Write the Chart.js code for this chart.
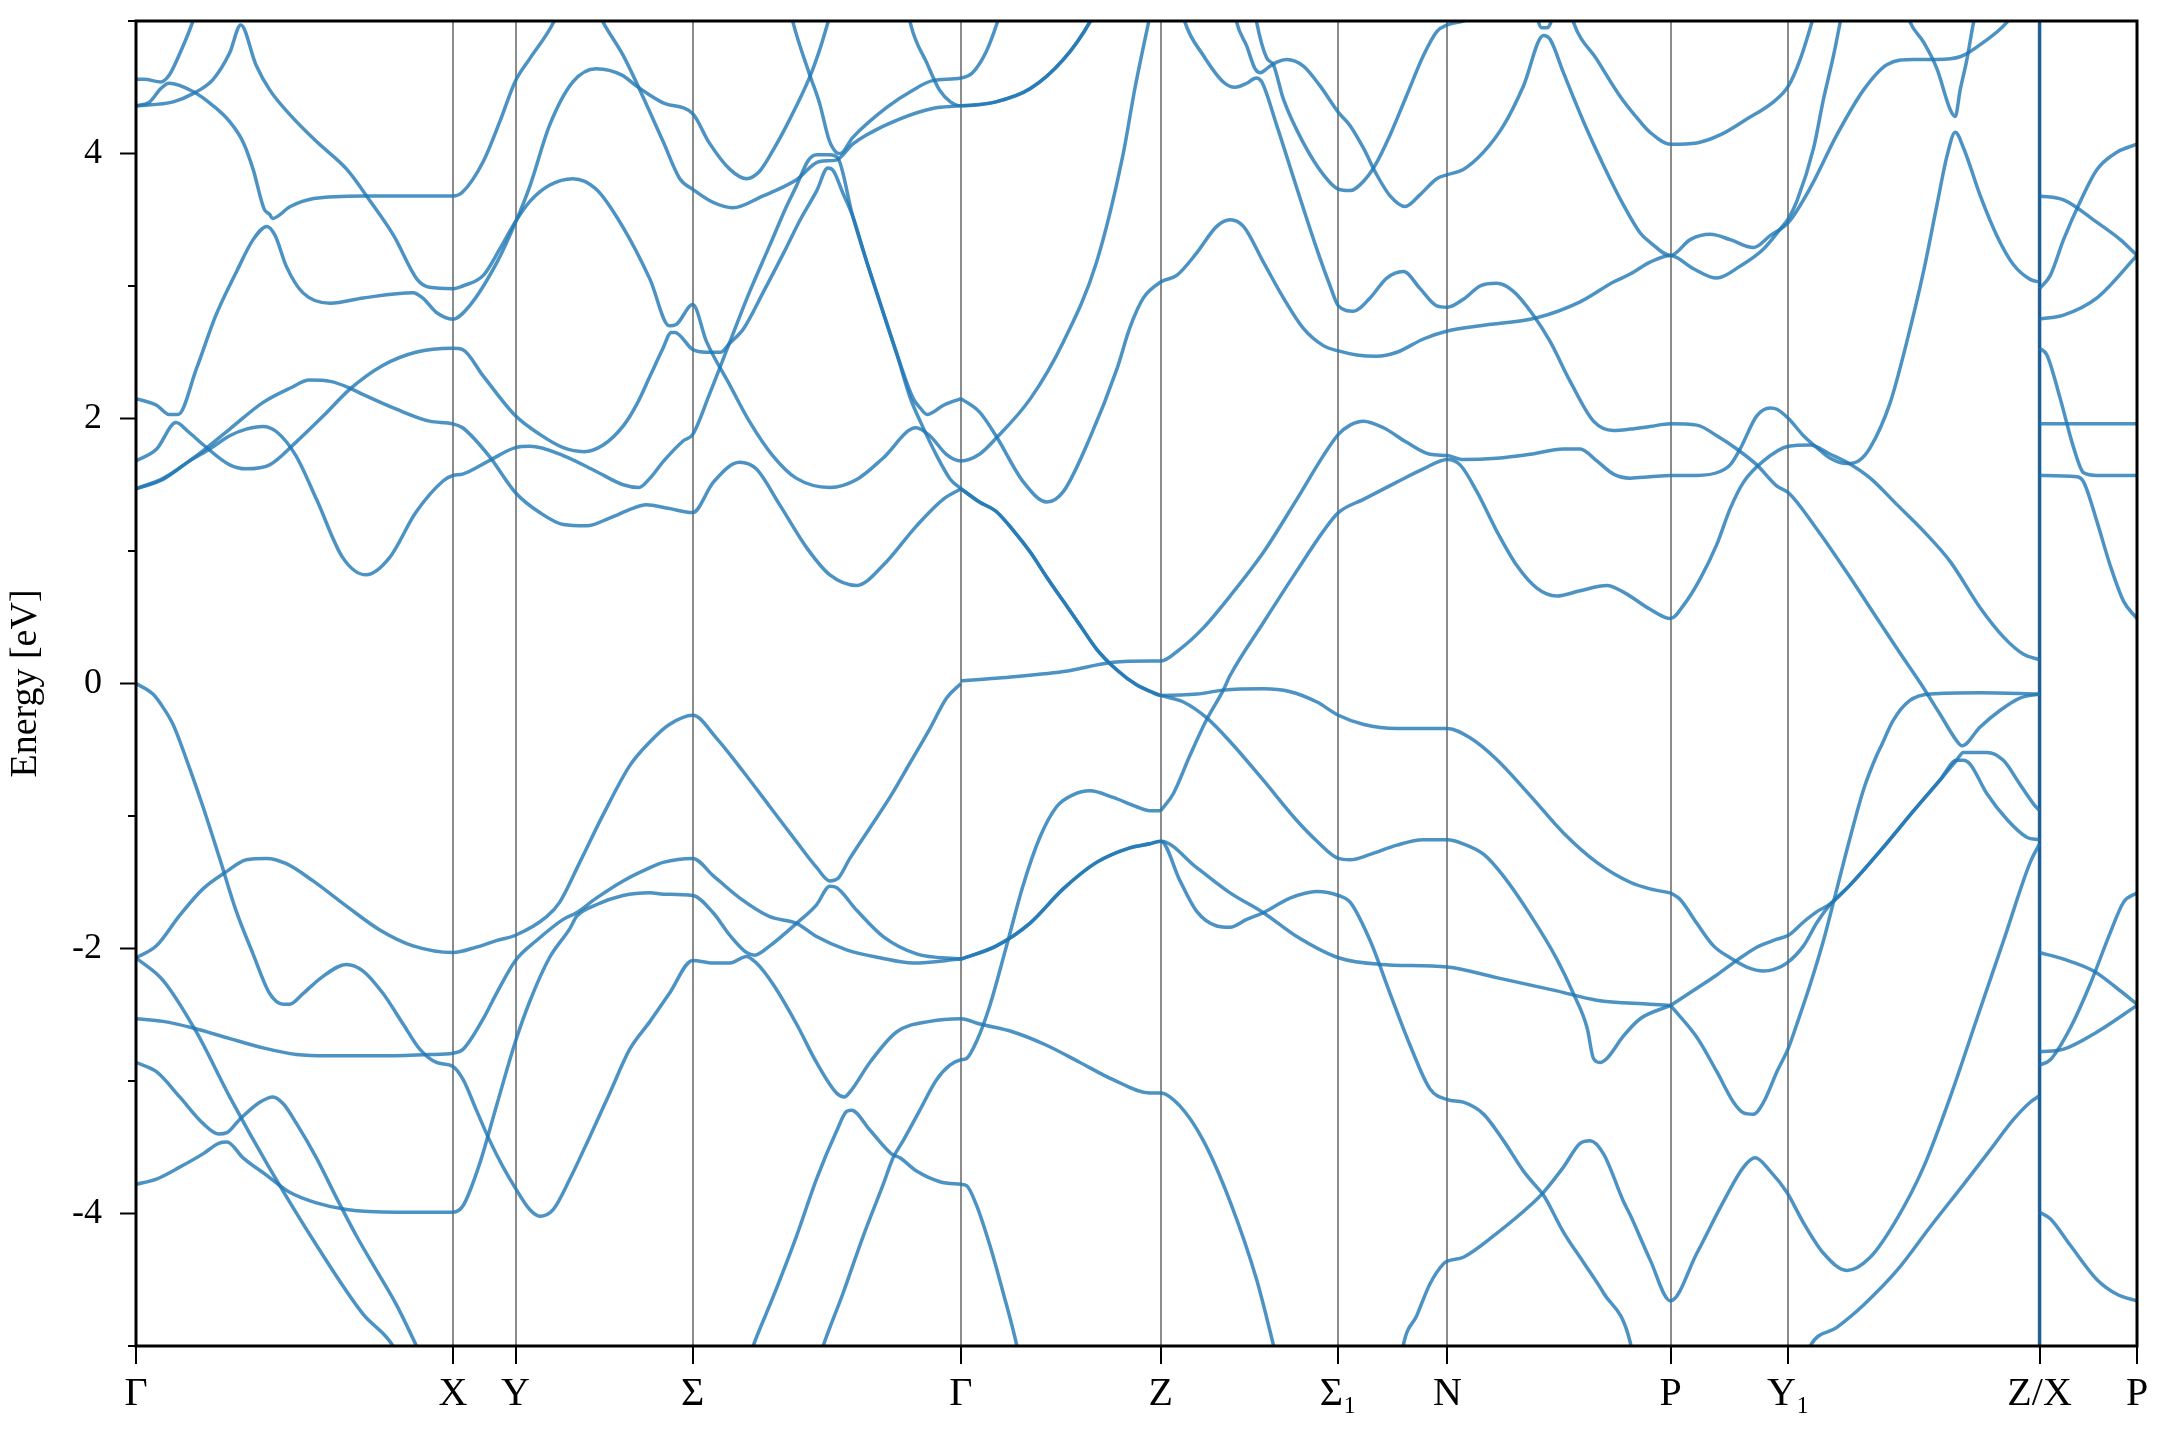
<!DOCTYPE html>
<html>
<head>
<meta charset="utf-8">
<title>Band structure</title>
<script src="https://cdn.jsdelivr.net/npm/chart.js@4.4.1/dist/chart.umd.min.js"></script>
<style>
  html, body { margin: 0; padding: 0; background: #fff; }
  #wrap { width: 2160px; height: 1440px; position: relative; }
</style>
</head>
<body>
<div id="wrap"><canvas id="bands"></canvas></div>
<script>
// high-symmetry points along the k-path
const kTicks = [0, 2.30, 2.754, 4.04, 5.986, 7.436, 8.725, 9.516, 11.135, 11.991, 13.813, 14.52];
const kLabels = ['Γ', 'X', 'Y', 'Σ', 'Γ', 'Z', 'Σ₁', 'N', 'P', 'Y₁', 'Z/X', 'P'];
const energyTicks = [-5, -4, -3, -2, -1, 0, 1, 2, 3, 4, 5];

// bands as [k, energy (eV)]
const band01 = [[0,4.56],[0.06,4.56],[0.18,4.54],[0.24,4.59],[0.32,4.76],[0.41,4.99],[0.45,5.12]];
const band02 = [[0,4.36],[0.1,4.39],[0.18,4.49],[0.24,4.53],[0.41,4.47],[0.56,4.36],[0.68,4.24],[0.78,4.08],[0.85,3.88],[0.93,3.58],[0.97,3.54],[0.99,3.51],[1.12,3.6],[1.29,3.66],[1.65,3.68],[2.0,3.68],[2.3,3.68],[2.37,3.71],[2.52,3.94],[2.64,4.24],[2.75,4.54],[2.86,4.72],[3.03,4.99],[3.08,5.12]];
const band03 = [[0,4.36],[0.27,4.39],[0.41,4.45],[0.56,4.56],[0.68,4.76],[0.76,4.97],[0.87,4.67],[0.97,4.48],[1.12,4.29],[1.31,4.09],[1.53,3.88],[1.7,3.64],[1.87,3.38],[2.04,3.05],[2.13,2.99],[2.3,2.98],[2.37,3.0],[2.52,3.08],[2.64,3.28],[2.75,3.48],[2.86,3.64],[3.0,3.76],[3.17,3.81],[3.34,3.73],[3.53,3.45],[3.73,3.05],[3.87,2.7],[3.92,2.71],[4.04,2.86],[4.14,2.58],[4.31,2.25],[4.45,1.98],[4.62,1.72],[4.79,1.55],[5.035,1.48],[5.23,1.54],[5.42,1.7],[5.66,1.93],[5.76,1.87],[5.88,1.73],[5.986,1.68],[6.12,1.73],[6.24,1.85],[6.49,2.15],[6.73,2.58],[6.97,3.18],[7.16,3.98],[7.25,4.5],[7.37,5.1]];
const band04 = [[0,2.15],[0.15,2.1],[0.24,2.03],[0.305,2.03],[0.44,2.38],[0.58,2.78],[0.73,3.11],[0.85,3.35],[0.95,3.45],[1.01,3.38],[1.09,3.15],[1.21,2.95],[1.41,2.87],[1.65,2.91],[2.01,2.95],[2.08,2.91],[2.18,2.8],[2.3,2.75],[2.42,2.85],[2.62,3.18],[2.754,3.48],[2.86,3.76],[3.0,4.21],[3.17,4.54],[3.34,4.64],[3.53,4.59],[3.63,4.51],[3.73,4.44],[3.83,4.38],[4.04,4.3],[4.16,4.08],[4.31,3.88],[4.43,3.81],[4.52,3.86],[4.62,4.02],[4.74,4.25],[4.89,4.58],[4.96,4.78],[5.03,5.02],[5.06,5.12]];
const band05a = [[0,1.68],[0.15,1.77],[0.29,1.97],[0.38,1.9],[0.49,1.8],[0.68,1.65],[0.8,1.62],[0.97,1.65],[1.16,1.82],[1.36,2.02],[1.55,2.22],[1.79,2.4],[2.03,2.5],[2.3,2.53],[2.37,2.52],[2.52,2.32],[2.754,2.02],[2.93,1.88],[3.1,1.78],[3.25,1.75],[3.39,1.8],[3.54,1.95],[3.64,2.12],[3.73,2.32],[3.82,2.52],[3.885,2.65],[3.91,2.65],[4.04,2.52],[4.14,2.5],[4.24,2.5],[4.31,2.57],[4.41,2.68],[4.55,2.95],[4.7,3.25],[4.82,3.5],[4.94,3.72],[5.02,3.89],[5.06,3.87],[5.13,3.7],[5.2,3.53],[5.3,3.19],[5.4,2.87],[5.52,2.49],[5.62,2.15],[5.69,1.98],[5.81,1.72],[5.91,1.54],[5.986,1.47]];
const band05b = [[5.986,1.47],[6.12,1.37],[6.24,1.3],[6.37,1.15],[6.49,0.99],[6.61,0.8],[6.73,0.62],[6.85,0.44],[6.97,0.26],[7.12,0.1],[7.26,-0.01],[7.36,-0.06],[7.436,-0.09],[7.6,-0.14],[7.77,-0.26],[7.94,-0.44],[8.18,-0.73],[8.42,-1.03],[8.57,-1.19],[8.725,-1.32],[8.81,-1.33],[8.955,-1.29],[9.15,-1.22],[9.34,-1.18],[9.516,-1.18],[9.63,-1.21],[9.78,-1.29],[9.92,-1.45],[10.12,-1.75],[10.31,-2.08],[10.43,-2.34],[10.53,-2.6],[10.576,-2.83],[10.624,-2.86],[10.673,-2.83],[10.794,-2.66],[10.915,-2.53],[11.135,-2.43]];
const band05c = [[11.135,-2.43],[11.326,-2.67],[11.471,-2.93],[11.592,-3.16],[11.665,-3.24],[11.737,-3.25],[11.81,-3.16],[11.907,-2.93],[11.991,-2.75],[12.052,-2.57],[12.149,-2.27],[12.245,-1.94],[12.342,-1.55],[12.439,-1.16],[12.536,-0.8],[12.632,-0.54],[12.66,-0.48],[12.75,-0.28],[12.87,-0.13],[13.02,-0.08],[13.38,-0.07],[13.813,-0.08]];
const band06a = [[0,1.47],[0.2,1.55],[0.44,1.72],[0.68,1.92],[0.92,2.12],[1.12,2.23],[1.26,2.29],[1.41,2.28],[1.55,2.23],[1.65,2.18],[1.89,2.07],[2.13,1.98],[2.3,1.96],[2.37,1.93],[2.56,1.72],[2.754,1.44],[2.93,1.29],[3.1,1.2],[3.27,1.19],[3.44,1.25],[3.6,1.32],[3.7,1.35],[3.87,1.32],[4.04,1.29],[4.19,1.52],[4.38,1.67],[4.5,1.62],[4.67,1.35],[4.87,1.02],[5.035,0.82],[5.23,0.74],[5.42,0.89],[5.664,1.19],[5.857,1.39],[5.986,1.47]];
const band06b = [[5.986,1.47],[6.12,1.37],[6.24,1.3],[6.37,1.15],[6.49,0.99],[6.61,0.8],[6.73,0.62],[6.85,0.44],[6.97,0.26],[7.12,0.1],[7.26,-0.01],[7.36,-0.06],[7.436,-0.09],[7.7,-0.08],[7.89,-0.05],[8.18,-0.04],[8.37,-0.06],[8.57,-0.14],[8.725,-0.24],[8.91,-0.31],[9.15,-0.34],[9.516,-0.34],[9.68,-0.41],[9.87,-0.57],[10.12,-0.85],[10.36,-1.13],[10.6,-1.35],[10.842,-1.5],[10.987,-1.55],[11.135,-1.58]];
const band06c = [[11.135,-1.58],[11.205,-1.63],[11.326,-1.81],[11.447,-1.98],[11.568,-2.07],[11.689,-2.14],[11.81,-2.17],[11.882,-2.16],[11.979,-2.11],[12.1,-1.98],[12.2,-1.8],[12.3,-1.66],[12.439,-1.52],[12.66,-1.26],[12.9,-0.96],[13.09,-0.73],[13.21,-0.58],[13.26,-0.58],[13.31,-0.61],[13.43,-0.83],[13.58,-1.03],[13.72,-1.16],[13.813,-1.18]];
const band07a = [[0,1.47],[0.196,1.54],[0.39,1.68],[0.535,1.77],[0.68,1.87],[0.8,1.92],[0.92,1.94],[1.02,1.9],[1.16,1.72],[1.31,1.39],[1.5,0.95],[1.67,0.82],[1.84,0.95],[2.03,1.29],[2.23,1.53],[2.3,1.57],[2.37,1.58],[2.56,1.68],[2.754,1.78],[2.86,1.79],[3.1,1.72],[3.34,1.6],[3.535,1.5],[3.65,1.48],[3.73,1.55],[3.83,1.68],[3.97,1.83],[4.04,1.88],[4.16,2.18],[4.31,2.58],[4.45,2.95],[4.6,3.31],[4.72,3.6],[4.79,3.75],[4.88,3.95],[4.94,3.99],[5.03,3.99],[5.09,3.97],[5.2,3.53],[5.3,3.19],[5.4,2.87],[5.52,2.49],[5.64,2.15],[5.69,2.08],[5.74,2.03],[5.86,2.1],[5.986,2.15]];
const band07b = [[5.986,2.15],[6.12,2.05],[6.24,1.87],[6.44,1.52],[6.61,1.37],[6.73,1.45],[6.92,1.85],[7.12,2.38],[7.21,2.68],[7.31,2.91],[7.436,3.03],[7.552,3.08],[7.697,3.25],[7.842,3.45],[7.939,3.5],[8.036,3.45],[8.181,3.18],[8.326,2.91],[8.471,2.68],[8.616,2.55],[8.725,2.51],[8.858,2.48],[9.003,2.47],[9.149,2.5],[9.342,2.6],[9.516,2.66],[9.753,2.7],[10.165,2.76],[10.479,2.88],[10.721,3.03],[10.842,3.09],[10.987,3.18],[11.135,3.23],[11.302,3.13],[11.471,3.06],[11.64,3.15],[11.81,3.28],[11.931,3.43],[11.991,3.51],[12.052,3.64],[12.173,4.04],[12.245,4.41],[12.318,4.74],[12.366,4.99],[12.39,5.12]];
const band08 = [[3.33,5.12],[3.39,4.99],[3.535,4.74],[3.656,4.48],[3.825,4.09],[3.946,3.81],[4.04,3.73],[4.19,3.63],[4.33,3.59],[4.55,3.68],[4.79,3.8],[4.96,3.94],[5.08,3.95],[5.2,4.07],[5.3,4.14],[5.54,4.26],[5.78,4.34],[5.986,4.36],[6.24,4.39],[6.49,4.49],[6.73,4.71],[6.92,4.99],[6.97,5.1]];
const band09 = [[4.74,5.12],[4.77,4.98],[4.89,4.59],[4.96,4.38],[5.03,4.1],[5.08,4.01],[5.11,4.0],[5.2,4.12],[5.45,4.35],[5.64,4.48],[5.78,4.55],[5.986,4.57],[6.07,4.61],[6.17,4.77],[6.25,4.99],[6.28,5.1]];
const band10 = [[5.6,5.1],[5.62,4.98],[5.74,4.68],[5.83,4.48],[5.91,4.39],[5.986,4.36],[6.24,4.39],[6.49,4.49],[6.73,4.71],[6.92,4.99],[6.97,5.1]];
const band11 = [[5.986,0.02],[6.24,0.04],[6.73,0.09],[7.09,0.16],[7.36,0.17],[7.436,0.17],[7.576,0.26],[7.745,0.42],[7.939,0.66],[8.181,0.99],[8.423,1.39],[8.616,1.72],[8.725,1.88],[8.81,1.95],[8.907,1.98],[9.052,1.93],[9.221,1.82],[9.39,1.73],[9.516,1.72],[9.632,1.69],[9.874,1.7],[10.116,1.73],[10.358,1.77],[10.479,1.77],[10.6,1.68],[10.721,1.58],[10.842,1.55],[10.987,1.56],[11.135,1.57],[11.326,1.57],[11.495,1.6],[11.568,1.65],[11.64,1.77],[11.761,2.02],[11.858,2.08],[11.907,2.07],[11.991,2.0],[12.1,1.87],[12.197,1.78],[12.294,1.7],[12.415,1.66],[12.5,1.68],[12.584,1.78],[12.729,2.12],[12.85,2.58],[12.971,3.11],[13.068,3.61],[13.141,3.98],[13.201,4.16],[13.262,4.04],[13.383,3.68],[13.503,3.38],[13.624,3.16],[13.745,3.05],[13.813,3.03]];
const band12a = [[4.94,-5.15],[4.986,-5.0],[5.131,-4.6],[5.277,-4.17],[5.422,-3.78],[5.494,-3.58],[5.567,-3.45],[5.688,-3.22],[5.809,-2.99],[5.906,-2.88],[5.986,-2.84],[6.027,-2.83],[6.1,-2.7],[6.196,-2.43],[6.317,-1.98],[6.438,-1.52],[6.559,-1.16],[6.68,-0.93],[6.8,-0.84],[6.922,-0.81],[7.09,-0.86],[7.26,-0.93],[7.357,-0.96],[7.436,-0.96]];
const band12b = [[7.436,-0.96],[7.528,-0.83],[7.649,-0.54],[7.77,-0.27],[7.89,-0.05],[7.939,0.06],[8.181,0.46],[8.423,0.85],[8.616,1.15],[8.725,1.29],[8.907,1.39],[9.149,1.52],[9.342,1.62],[9.516,1.69],[9.608,1.65],[9.729,1.45],[9.874,1.15],[10.02,0.89],[10.165,0.72],[10.31,0.66],[10.479,0.7],[10.673,0.74],[10.794,0.69],[10.987,0.56],[11.135,0.49],[11.229,0.59],[11.35,0.79],[11.471,1.05],[11.568,1.32],[11.665,1.52],[11.81,1.68],[11.991,1.79],[12.149,1.8],[12.294,1.73],[12.415,1.67],[12.584,1.55],[12.778,1.35],[12.971,1.15],[13.165,0.92],[13.383,0.57],[13.552,0.35],[13.697,0.22],[13.813,0.18]];
const band13 = [[7.575,5.15],[7.612,4.99],[7.745,4.74],[7.89,4.54],[7.975,4.5],[8.06,4.53],[8.128,4.57],[8.169,4.54],[8.278,4.21],[8.423,3.74],[8.568,3.28],[8.665,3.0],[8.725,2.85],[8.834,2.81],[8.955,2.91],[9.076,3.06],[9.197,3.11],[9.318,2.98],[9.439,2.85],[9.516,2.84],[9.632,2.9],[9.753,3.0],[9.874,3.02],[9.995,2.96],[10.14,2.78],[10.262,2.58],[10.407,2.28],[10.576,1.98],[10.721,1.91],[10.842,1.92],[10.987,1.94],[11.135,1.96],[11.326,1.95],[11.471,1.87],[11.616,1.77],[11.761,1.65],[11.907,1.49],[11.991,1.44],[12.2,1.16],[12.4,0.86],[12.66,0.45],[12.8,0.23],[12.95,0.0],[13.09,-0.23],[13.21,-0.43],[13.25,-0.47],[13.38,-0.33],[13.53,-0.2],[13.67,-0.11],[13.813,-0.08]];
const band14 = [[7.96,5.15],[7.987,4.99],[8.06,4.81],[8.12,4.64],[8.157,4.61],[8.217,4.65],[8.278,4.69],[8.35,4.71],[8.471,4.66],[8.592,4.51],[8.725,4.31],[8.81,4.21],[8.907,4.04],[9.003,3.84],[9.1,3.68],[9.209,3.6],[9.318,3.69],[9.439,3.81],[9.516,3.84],[9.632,3.88],[9.778,4.01],[9.923,4.21],[10.068,4.51],[10.213,4.89],[10.262,4.86],[10.358,4.61],[10.504,4.24],[10.649,3.91],[10.794,3.61],[10.915,3.4],[10.987,3.33],[11.135,3.23],[11.278,3.35],[11.423,3.39],[11.568,3.35],[11.737,3.29],[11.858,3.38],[11.991,3.48],[12.149,3.74],[12.342,4.14],[12.536,4.48],[12.705,4.67],[12.899,4.71],[13.068,4.71],[13.237,4.73],[13.407,4.84],[13.576,4.99],[13.65,5.1]];
const band15 = [[8.108,5.15],[8.132,4.99],[8.205,4.72],[8.253,4.67],[8.326,4.41],[8.471,4.08],[8.616,3.84],[8.725,3.73],[8.81,3.72],[8.907,3.79],[8.991,3.91],[9.1,4.14],[9.221,4.44],[9.342,4.74],[9.439,4.92],[9.516,4.97],[9.632,5.0],[9.75,5.05]];
const band16 = [[10.4,5.12],[10.431,4.99],[10.6,4.71],[10.77,4.43],[10.915,4.24],[10.987,4.16],[11.135,4.07],[11.326,4.08],[11.495,4.14],[11.689,4.26],[11.882,4.39],[11.991,4.51],[12.076,4.71],[12.161,4.99],[12.19,5.1]];
const band17 = [[10.15,5.08],[10.2,4.95],[10.24,4.95],[10.3,5.08]];
const band18 = [[12.84,5.1],[12.874,4.99],[12.971,4.84],[13.068,4.64],[13.165,4.33],[13.201,4.28],[13.237,4.48],[13.286,4.71],[13.334,4.99],[13.36,5.1]];
// Z/X -> P
const band19 = [[13.813,3.68],[13.987,3.65],[14.23,3.48],[14.399,3.35],[14.52,3.23]];
const band20 = [[13.813,2.98],[13.891,3.08],[13.987,3.35],[14.109,3.64],[14.23,3.88],[14.375,4.01],[14.52,4.07]];
const band21 = [[13.813,2.75],[13.987,2.78],[14.23,2.91],[14.52,3.23]];
const band22 = [[13.813,2.53],[13.866,2.48],[13.963,2.15],[14.06,1.78],[14.133,1.59],[14.23,1.57],[14.52,1.57]];
const band23 = [[13.813,1.96],[14.52,1.96]];
const band24 = [[13.813,1.57],[14.084,1.56],[14.133,1.52],[14.23,1.22],[14.326,0.89],[14.423,0.62],[14.52,0.49]];
const band25 = [[13.813,-2.03],[13.987,-2.08],[14.205,-2.17],[14.375,-2.3],[14.52,-2.42]];
const band26 = [[13.813,-2.88],[13.891,-2.84],[14.036,-2.6],[14.18,-2.27],[14.326,-1.88],[14.423,-1.65],[14.52,-1.58]];
const band27 = [[13.813,-2.78],[13.987,-2.76],[14.23,-2.63],[14.52,-2.43]];
const band28 = [[13.813,-3.99],[13.891,-4.04],[14.036,-4.24],[14.23,-4.5],[14.375,-4.61],[14.52,-4.66]];
// valence side
const band29 = [[0,0],[0.123,-0.08],[0.196,-0.18],[0.269,-0.31],[0.365,-0.57],[0.486,-0.93],[0.607,-1.32],[0.728,-1.72],[0.849,-2.04],[0.97,-2.34],[1.067,-2.42],[1.115,-2.42],[1.212,-2.34],[1.357,-2.21],[1.527,-2.12],[1.648,-2.17],[1.793,-2.34],[1.938,-2.57],[2.059,-2.76],[2.18,-2.86],[2.3,-2.89],[2.374,-2.99],[2.47,-3.22],[2.567,-3.45],[2.664,-3.65],[2.754,-3.81],[2.857,-3.97],[2.93,-4.02],[3.027,-3.97],[3.148,-3.74],[3.293,-3.42],[3.438,-3.09],[3.583,-2.76],[3.73,-2.55],[3.87,-2.34],[4.04,-2.09],[4.188,-2.11],[4.309,-2.11],[4.43,-2.06],[4.502,-2.11],[4.623,-2.27],[4.793,-2.57],[4.938,-2.86],[5.083,-3.09],[5.14,-3.12],[5.19,-3.07],[5.325,-2.86],[5.519,-2.63],[5.761,-2.55],[5.986,-2.53],[6.124,-2.57],[6.365,-2.63],[6.607,-2.73],[6.85,-2.86],[7.09,-2.99],[7.357,-3.09],[7.436,-3.09],[7.576,-3.19],[7.745,-3.45],[7.939,-3.91],[8.132,-4.5],[8.253,-4.99],[8.29,-5.15]];
const band30 = [[0,-2.07],[0.148,-1.98],[0.317,-1.75],[0.486,-1.55],[0.656,-1.42],[0.8,-1.33],[0.946,-1.32],[1.091,-1.36],[1.285,-1.49],[1.527,-1.68],[1.769,-1.86],[2.011,-1.98],[2.3,-2.03],[2.47,-1.99],[2.615,-1.94],[2.754,-1.9],[2.98,-1.76],[3.075,-1.65],[3.22,-1.35],[3.39,-0.99],[3.583,-0.62],[3.73,-0.44],[3.87,-0.31],[4.04,-0.24],[4.21,-0.41],[4.41,-0.67],[4.6,-0.93],[4.79,-1.19],[4.94,-1.39],[5.035,-1.49],[5.095,-1.47],[5.18,-1.32],[5.325,-1.09],[5.47,-0.86],[5.616,-0.6],[5.761,-0.34],[5.882,-0.11],[5.986,0.0]];
const band31 = [[0,-2.07],[0.196,-2.24],[0.438,-2.63],[0.68,-3.12],[0.97,-3.66],[1.31,-4.24],[1.648,-4.76],[1.865,-5.0],[1.95,-5.2]];
const band32 = [[0,-2.86],[0.148,-2.93],[0.317,-3.12],[0.486,-3.32],[0.6,-3.4],[0.66,-3.39],[0.752,-3.29],[0.898,-3.16],[0.994,-3.12],[1.067,-3.17],[1.164,-3.32],[1.309,-3.58],[1.454,-3.88],[1.6,-4.17],[1.745,-4.43],[1.89,-4.69],[2.035,-5.0],[2.1,-5.15]];
const band33a = [[0,-3.78],[0.148,-3.74],[0.317,-3.65],[0.486,-3.55],[0.6,-3.47],[0.66,-3.46],[0.777,-3.58],[0.946,-3.71],[1.115,-3.84],[1.309,-3.92],[1.527,-3.97],[1.89,-3.99],[2.3,-3.99],[2.374,-3.94],[2.495,-3.62],[2.615,-3.19],[2.754,-2.7],[2.857,-2.4],[3.0,-2.07],[3.148,-1.85],[3.196,-1.76],[3.34,-1.67],[3.535,-1.6],[3.73,-1.58],[3.83,-1.59],[4.04,-1.6],[4.188,-1.73],[4.309,-1.9],[4.43,-2.03],[4.49,-2.05],[4.599,-1.98],[4.793,-1.81],[4.938,-1.67],[5.035,-1.53],[5.083,-1.54],[5.228,-1.71],[5.422,-1.91],[5.664,-2.04],[5.986,-2.08]];
const band33b = [[5.986,-2.08],[6.244,-1.98],[6.486,-1.81],[6.728,-1.55],[6.97,-1.35],[7.212,-1.24],[7.357,-1.21],[7.436,-1.19],[7.576,-1.49],[7.697,-1.72],[7.842,-1.83],[7.939,-1.84],[8.06,-1.78],[8.181,-1.73],[8.374,-1.62],[8.568,-1.57],[8.725,-1.6],[8.81,-1.65],[8.955,-1.94],[9.1,-2.34],[9.245,-2.73],[9.39,-3.06],[9.516,-3.14],[9.632,-3.16],[9.778,-3.25],[9.923,-3.45],[10.068,-3.68],[10.189,-3.83],[10.213,-3.86],[10.358,-4.14],[10.504,-4.37],[10.649,-4.6],[10.842,-4.97],[10.87,-5.15]];
const band34a = [[0,-2.53],[0.196,-2.55],[0.414,-2.6],[0.68,-2.68],[0.922,-2.75],[1.164,-2.8],[1.406,-2.81],[1.769,-2.81],[2.13,-2.8],[2.3,-2.79],[2.374,-2.76],[2.52,-2.53],[2.615,-2.34],[2.754,-2.09],[2.906,-1.94],[3.1,-1.78],[3.196,-1.73],[3.34,-1.62],[3.535,-1.49],[3.73,-1.39],[3.825,-1.35],[4.04,-1.32],[4.188,-1.45],[4.382,-1.62],[4.599,-1.76],[4.793,-1.81],[4.938,-1.91],[5.156,-2.01],[5.398,-2.07],[5.64,-2.11],[5.986,-2.08]];
const band34b = [[5.986,-2.08],[6.244,-1.98],[6.486,-1.81],[6.728,-1.55],[6.97,-1.35],[7.212,-1.24],[7.357,-1.21],[7.436,-1.19],[7.697,-1.39],[7.939,-1.58],[8.181,-1.73],[8.423,-1.91],[8.725,-2.07],[9.028,-2.12],[9.516,-2.14],[9.874,-2.22],[10.31,-2.32],[10.6,-2.39],[10.987,-2.42],[11.135,-2.43]];
const band34c = [[11.135,-2.43],[11.326,-2.3],[11.471,-2.2],[11.616,-2.09],[11.761,-1.99],[11.907,-1.93],[11.991,-1.9],[12.1,-1.8],[12.2,-1.72],[12.3,-1.66],[12.439,-1.52],[12.66,-1.26],[12.9,-0.96],[13.09,-0.73],[13.21,-0.58],[13.26,-0.52],[13.43,-0.52],[13.55,-0.58],[13.67,-0.76],[13.77,-0.91],[13.813,-0.96]];
const band35 = [[4.43,-5.15],[4.478,-5.0],[4.623,-4.63],[4.793,-4.17],[4.938,-3.74],[5.083,-3.38],[5.156,-3.23],[5.192,-3.22],[5.325,-3.37],[5.482,-3.55],[5.543,-3.58],[5.664,-3.68],[5.833,-3.76],[5.986,-3.78],[6.027,-3.79],[6.1,-3.94],[6.196,-4.24],[6.293,-4.6],[6.39,-4.99],[6.42,-5.15]];
const band36 = [[9.18,-5.12],[9.197,-4.99],[9.294,-4.77],[9.39,-4.53],[9.487,-4.38],[9.516,-4.36],[9.632,-4.33],[9.874,-4.15],[10.116,-3.94],[10.213,-3.84],[10.358,-3.65],[10.479,-3.47],[10.552,-3.45],[10.649,-3.55],[10.794,-3.91],[10.842,-4.01],[10.987,-4.35],[11.135,-4.66],[11.326,-4.3],[11.519,-3.91],[11.665,-3.65],[11.749,-3.58],[11.858,-3.68],[11.979,-3.84],[12.1,-4.07],[12.245,-4.3],[12.415,-4.43],[12.584,-4.33],[12.778,-4.04],[12.971,-3.65],[13.165,-3.12],[13.358,-2.53],[13.552,-1.94],[13.745,-1.35],[13.813,-1.21]];
const band37 = [[12.1,-5.15],[12.149,-5.0],[12.342,-4.86],[12.536,-4.69],[12.778,-4.43],[13.02,-4.1],[13.262,-3.78],[13.455,-3.52],[13.624,-3.29],[13.745,-3.16],[13.813,-3.11]];
// bands jump at the Z/X discontinuity
const zxJump = [[13.813,-5.2],[13.813,5.2]];

const allBands = [band01, band02, band03, band04, band05a, band05b, band05c, band06a, band06b, band06c,
  band07a, band07b, band08, band09, band10, band11, band12a, band12b, band13, band14, band15, band16,
  band17, band18, band19, band20, band21, band22, band23, band24, band25, band26, band27, band28,
  band29, band30, band31, band32, band33a, band33b, band34a, band34b, band34c, band35, band36, band37];

const bandColor = 'rgba(31,119,180,0.8)';
const serif = 'Liberation Serif';

const datasets = allBands.map((b) => ({
  data: b.map(([x, y]) => ({ x, y })),
  borderColor: bandColor,
  borderWidth: 3.5,
  pointRadius: 0,
  fill: false,
  cubicInterpolationMode: 'monotone',
}));
datasets.push({
  data: zxJump.map(([x, y]) => ({ x, y })),
  borderColor: 'rgba(24,92,150,0.95)',
  borderWidth: 3.5,
  pointRadius: 0,
  fill: false,
  tension: 0,
});

// y tick marks (long for labelled, short for the others) and the box frame
const framePlugin = {
  id: 'frame',
  afterDraw(chart) {
    const { ctx, chartArea: a } = chart;
    const yScale = chart.scales.y;
    ctx.save();
    ctx.strokeStyle = '#000';
    ctx.lineWidth = 2;
    energyTicks.forEach((v) => {
      const py = yScale.getPixelForValue(v);
      const len = v % 2 === 0 ? 16 : 8;
      ctx.beginPath();
      ctx.moveTo(a.left - len, py);
      ctx.lineTo(a.left, py);
      ctx.stroke();
    });
    ctx.lineWidth = 3;
    ctx.strokeRect(a.left, a.top, a.right - a.left, a.bottom - a.top);
    ctx.restore();
  },
};

const ctx = document.getElementById('bands').getContext('2d');
// eslint-disable-next-line no-undef, no-unused-vars
const chart = new Chart(ctx, {
  type: 'line',
  data: { datasets },
  options: {
    responsive: true,
    maintainAspectRatio: false,
    animation: false,
    layout: { padding: { top: 21, right: 23, bottom: 0, left: 0 } },
    plugins: { legend: { display: false }, tooltip: { enabled: false } },
    scales: {
      x: {
        type: 'linear',
        min: 0,
        max: 14.52,
        afterBuildTicks: (axis) => { axis.ticks = kTicks.map((v) => ({ value: v })); },
        afterFit: (axis) => { axis.height = 94; },
        ticks: {
          autoSkip: false,
          maxRotation: 0,
          padding: 6,
          color: '#000',
          font: { family: serif, size: 40 },
          callback: (v, i) => kLabels[i],
        },
        grid: {
          color: 'rgba(0,0,0,0.45)',
          lineWidth: 2,
          tickColor: '#000',
          tickWidth: 2,
          tickLength: 18,
        },
        border: { display: false },
      },
      y: {
        min: -5,
        max: 5,
        afterBuildTicks: (axis) => { axis.ticks = energyTicks.map((v) => ({ value: v })); },
        afterFit: (axis) => {
          axis.width = 136;
          axis.paddingTop = 0;
          axis.paddingBottom = 0;
        },
        ticks: {
          padding: 26,
          color: '#000',
          font: { family: serif, size: 36 },
          callback: (v) => (v % 2 === 0 && Math.abs(v) < 5 ? String(v) : ''),
        },
        grid: { display: false },
        border: { display: false },
        title: {
          display: true,
          text: 'Energy [eV]',
          color: '#000',
          font: { family: serif, size: 38 },
          padding: { top: 3, bottom: 0 },
        },
      },
    },
  },
  plugins: [framePlugin],
});
</script>
</body>
</html>
